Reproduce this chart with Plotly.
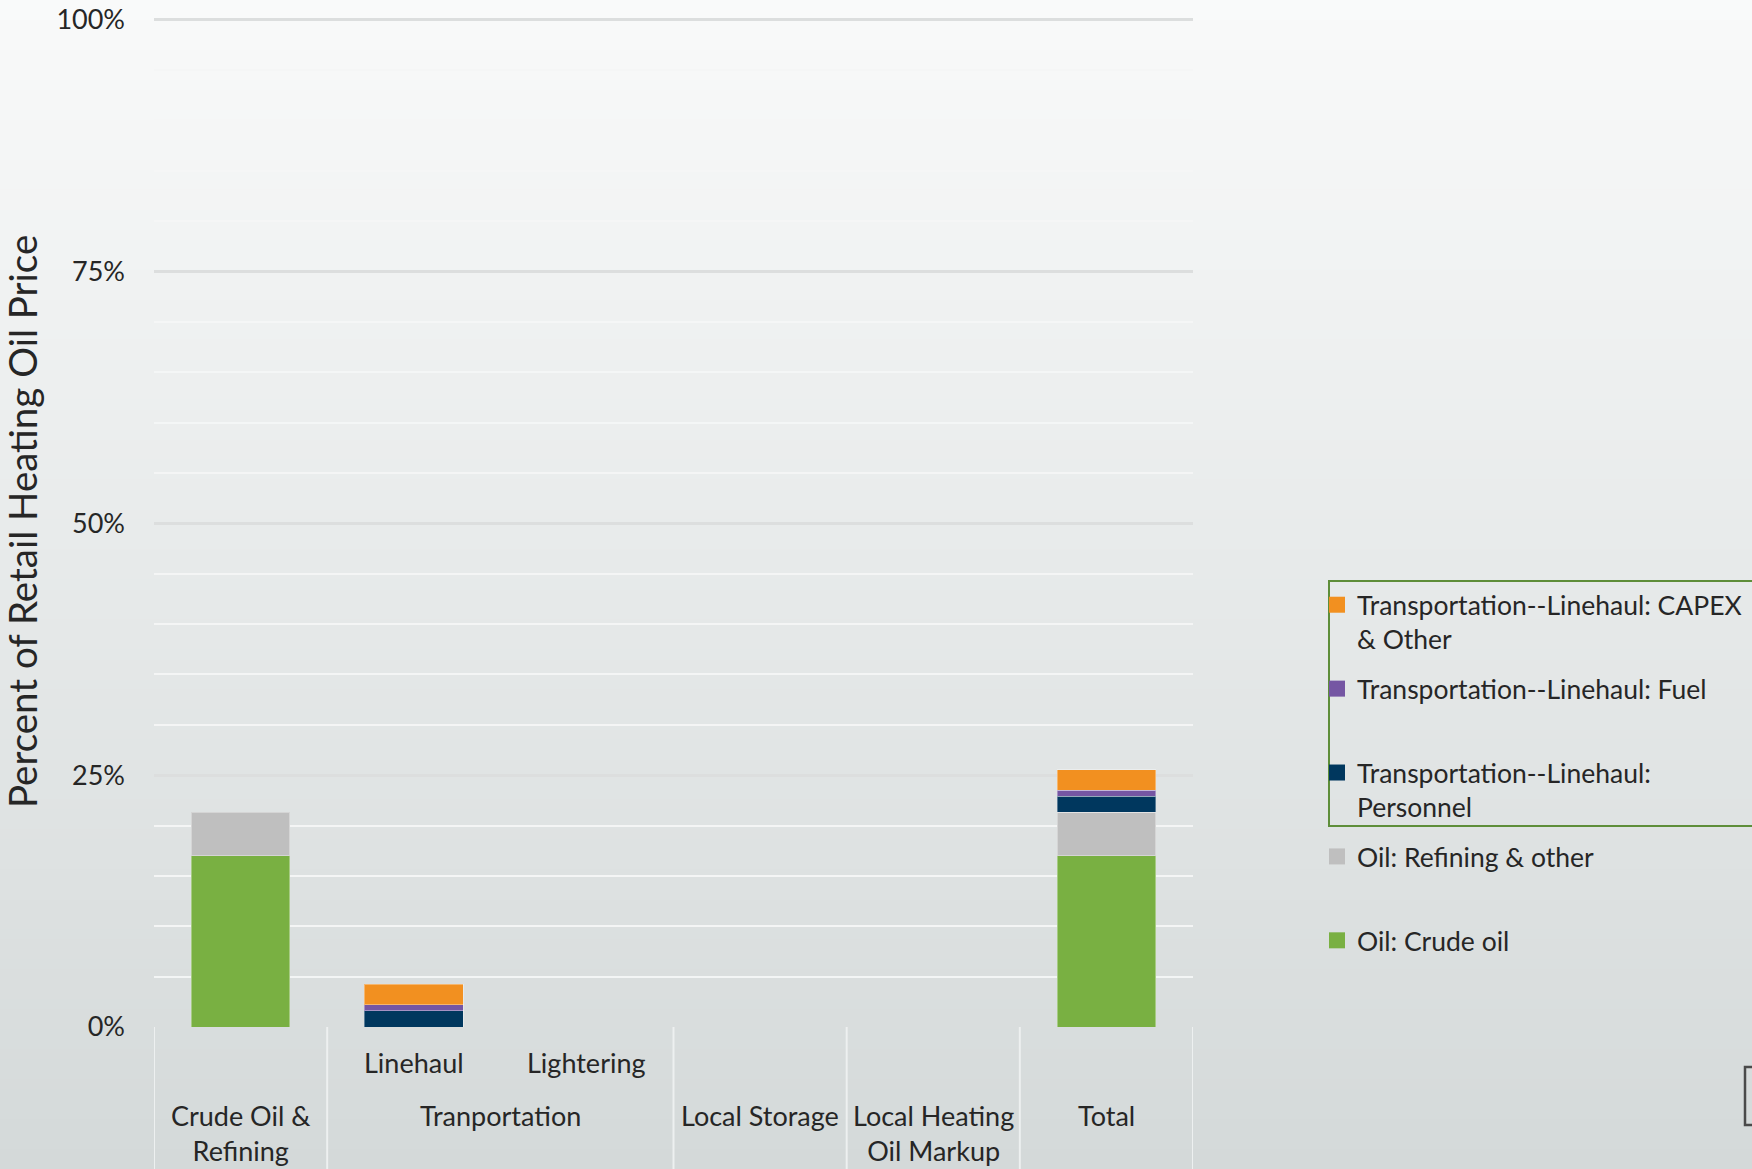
import plotly.graph_objects as go

# ---- data (percent of retail heating oil price) ----
categories = ["Crude Oil & Refining", "Linehaul", "Lightering",
              "Local Storage", "Local Heating Oil Markup", "Total"]
crude_oil = [17.0, None, None, None, None, 17.0]
refining_other = [4.3, None, None, None, None, 4.3]
linehaul_personnel = [None, 1.6, None, None, None, 1.6]
linehaul_fuel = [None, 0.6, None, None, None, 0.6]
linehaul_capex = [None, 2.05, None, None, None, 2.05]

# stacking order: bottom to top
series_names = [
    "Oil: Crude oil<br>\u00a0",
    "Oil: Refining & other<br>\u00a0",
    "Transportation--Linehaul:<br>Personnel",
    "Transportation--Linehaul: Fuel<br>\u00a0",
    "Transportation--Linehaul: CAPEX<br>& Other",
]
series_values = [crude_oil, refining_other, linehaul_personnel,
                 linehaul_fuel, linehaul_capex]
series_colors = ["#79b042", "#bfbfbf", "#00375e", "#7556a3", "#f29020"]

# two-level category labels
inner_labels = [(1, "Linehaul"), (2, "Lightering")]
outer_labels = [(0, "Crude Oil &<br>Refining"), (1.5, "Tranportation"),
                (3, "Local Storage"), (4, "Local Heating<br>Oil Markup"),
                (5, "Total")]
y_ticks = [0, 25, 50, 75, 100]
y_tick_text = ["0%", "25%", "50%", "75%", "100%"]

# ---- page geometry ----
W, H = 1752, 1169
ML, MR, MT, MB = 154, 559, 17, 142
PW, PH = W - ML - MR, H - MT - MB


def px_x(px):
    return (px - ML) / PW


def px_y(py):
    return (H - MB - py) / PH


FONT = "Lato"
TEXT = "#262626"

fig = go.Figure()
n = len(series_names)
for i, (name, vals, col) in enumerate(zip(series_names, series_values, series_colors)):
    fig.add_trace(go.Bar(
        x=categories, y=vals, name=name, legendgroup=name, showlegend=False,
        marker=dict(color=col, line=dict(color="rgba(255,255,255,0.35)", width=1)),
        width=0.57,
    ))
    # square legend swatch for the series
    fig.add_trace(go.Scatter(
        x=[None], y=[None], mode="markers", name=name, legendgroup=name,
        legendrank=n - i,
        marker=dict(symbol="square", size=16, color=col),
    ))

shapes = []
# vertical background gradient
n_bands = 117
top_c, bot_c = (249, 250, 250), (212, 217, 217)
for i in range(n_bands):
    t = (i + 0.5) / n_bands
    c = tuple(round(a + (b - a) * t) for a, b in zip(top_c, bot_c))
    y0 = H * i / n_bands
    y1 = H * (i + 1) / n_bands + 1
    shapes.append(dict(type="rect", xref="paper", yref="paper", layer="below",
                       x0=px_x(0), x1=px_x(W), y0=px_y(y1), y1=px_y(y0),
                       fillcolor="rgb(%d,%d,%d)" % c, line=dict(width=0)))

# category table dividers below the axis
for xd in [-0.5, 0.5, 2.5, 3.5, 4.5, 5.5]:
    shapes.append(dict(type="line", xref="x", yref="paper", layer="below",
                       x0=xd, x1=xd, y0=0, y1=px_y(H + 5),
                       line=dict(color="rgba(240,242,242,0.9)", width=2)))

# outline around the transportation legend entries
shapes.append(dict(type="rect", xref="paper", yref="paper",
                   x0=px_x(1329), x1=px_x(1770), y0=px_y(826), y1=px_y(581),
                   line=dict(color="#5e8e3a", width=2)))
# small frame at the lower right edge
shapes.append(dict(type="rect", xref="paper", yref="paper",
                   x0=px_x(1745), x1=px_x(1775), y0=px_y(1125), y1=px_y(1067),
                   line=dict(color="#4a4a4a", width=2.5)))

LABEL_SIZE = 27
annotations = []
for xpos, txt in inner_labels:
    annotations.append(dict(x=xpos, y=px_y(1062), xref="x", yref="paper",
                            text=txt, showarrow=False, yanchor="middle",
                            font=dict(family=FONT, size=LABEL_SIZE, color=TEXT)))
for xpos, txt in outer_labels:
    annotations.append(dict(x=xpos, y=px_y(1097), xref="x", yref="paper",
                            text=txt, showarrow=False, yanchor="top",
                            font=dict(family=FONT, size=LABEL_SIZE, color=TEXT)))
annotations.append(dict(x=px_x(22), y=px_y(522), xref="paper", yref="paper",
                        text="Percent of Retail Heating Oil Price",
                        textangle=-90, showarrow=False,
                        xanchor="center", yanchor="middle",
                        font=dict(family=FONT, size=38.5, color=TEXT)))

fig.update_layout(
    width=W, height=H,
    margin=dict(l=ML, r=MR, t=MT, b=MB, autoexpand=False),
    barmode="stack",
    paper_bgcolor="#f9fafa",
    plot_bgcolor="rgba(0,0,0,0)",
    font=dict(family=FONT, color=TEXT),
    shapes=shapes,
    annotations=annotations,
    showlegend=True,
    legend=dict(
        x=px_x(1317), y=px_y(581), xanchor="left", yanchor="top",
        traceorder="grouped", tracegroupgap=12, valign="top",
        bgcolor="rgba(0,0,0,0)",
        font=dict(family=FONT, size=26.5, color=TEXT),
    ),
    xaxis=dict(
        type="category", categoryorder="array", categoryarray=categories,
        range=[-0.5, 5.5], showticklabels=False, showgrid=False,
        zeroline=False, showline=False, ticks="",
    ),
    yaxis=dict(
        range=[0, 100.25], tickvals=y_ticks, ticktext=y_tick_text,
        showgrid=True, gridcolor="#dcdede", gridwidth=3,
        minor=dict(dtick=5, showgrid=True, gridcolor="rgba(244,246,246,0.95)",
                   gridwidth=2),
        zeroline=False, showline=False, ticks="",
        ticklabelstandoff=28, ticklabeloverflow="allow",
        tickfont=dict(family=FONT, size=27, color=TEXT),
    ),
)

fig.write_html("out.html")
